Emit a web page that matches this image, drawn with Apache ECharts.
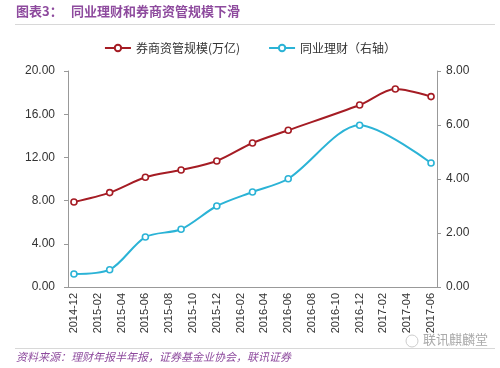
<!DOCTYPE html>
<html><head><meta charset="utf-8">
<script src="https://cdn.jsdelivr.net/npm/echarts@6/dist/echarts.min.js"></script>
<style>html,body{margin:0;padding:0;background:#fff}#c{width:500px;height:368px}</style>
</head><body><div id="c"></div>
<script>
// monthly categories 2014-12 .. 2017-06
const months = ['2014-12','2015-01','2015-02','2015-03','2015-04','2015-05','2015-06','2015-07','2015-08','2015-09','2015-10','2015-11','2015-12','2016-01','2016-02','2016-03','2016-04','2016-05','2016-06','2016-07','2016-08','2016-09','2016-10','2016-11','2016-12','2017-01','2017-02','2017-03','2017-04','2017-05','2017-06'];
const brokerDates = ['2014-12','2015-03','2015-06','2015-09','2015-12','2016-03','2016-06','2016-12','2017-03','2017-06'];
const brokerValues = [7.87, 8.74, 10.16, 10.84, 11.67, 13.33, 14.51, 16.85, 18.33, 17.63];
const interbankDates = ['2014-12','2015-03','2015-06','2015-09','2015-12','2016-03','2016-06','2016-12','2017-06'];
const interbankValues = [0.48, 0.64, 1.85, 2.14, 3.00, 3.52, 4.01, 5.99, 4.59];
const leftTicks = [0, 4, 8, 12, 16, 20];
const rightTicks = [0, 2, 4, 6, 8];

function toSeries(dates, vals){
  return months.map(m => { const i = dates.indexOf(m); return i >= 0 ? vals[i] : null; });
}
const chart = echarts.init(document.getElementById('c'), null, {renderer:'canvas'});
const purple = '#8E4B9E';
const font = '"Microsoft YaHei","Noto Sans CJK SC",sans-serif';
chart.setOption({
  animation:false,
  textStyle:{fontFamily:font},
  legend:{
    top:37, left:'center', itemGap:28, itemWidth:26, itemHeight:8,
    textStyle:{fontSize:12, color:'#333', fontFamily:font},
    data:['券商资管规模(万亿)','同业理财（右轴）']
  },
  grid:{left:68, right:63, top:71, bottom:81, containLabel:false},
  xAxis:{
    type:'category', data:months, boundaryGap:true,
    axisLine:{lineStyle:{color:'#999'}},
    axisTick:{interval:1, length:5, lineStyle:{color:'#999'}},
    axisLabel:{interval:1, rotate:90, fontSize:11, color:'#333', margin:6, fontFamily:'"Liberation Sans",Arial,sans-serif'}
  },
  yAxis:[
    {type:'value', min:leftTicks[0], max:leftTicks[leftTicks.length-1], interval:4,
     axisLine:{show:true, lineStyle:{color:'#999'}},
     axisTick:{show:true, length:4, lineStyle:{color:'#999'}},
     splitLine:{show:false},
     axisLabel:{formatter:v=>v.toFixed(2), fontSize:12, color:'#333', margin:13, fontFamily:'"Liberation Sans",Arial,sans-serif'}},
    {type:'value', min:rightTicks[0], max:rightTicks[rightTicks.length-1], interval:2,
     axisLine:{show:true, lineStyle:{color:'#999'}},
     axisTick:{show:true, length:4, lineStyle:{color:'#999'}},
     splitLine:{show:false},
     axisLabel:{formatter:v=>v.toFixed(2), fontSize:12, color:'#333', margin:9, fontFamily:'"Liberation Sans",Arial,sans-serif'}}
  ],
  series:[
    {name:'券商资管规模(万亿)', type:'line', yAxisIndex:0, data:toSeries(brokerDates, brokerValues),
     connectNulls:true, smooth:0.3, symbol:'circle', symbolSize:6,
     lineStyle:{color:'#A51C24', width:2},
     itemStyle:{color:'#fff', borderColor:'#A51C24', borderWidth:1.6}},
    {name:'同业理财（右轴）', type:'line', yAxisIndex:1, data:toSeries(interbankDates, interbankValues),
     connectNulls:true, smooth:0.3, symbol:'circle', symbolSize:6,
     lineStyle:{color:'#2BB3D6', width:2},
     itemStyle:{color:'#fff', borderColor:'#2BB3D6', borderWidth:1.6}}
  ],
  graphic:[
    {type:'text', left:16, top:5, style:{text:'图表3：', fill:purple, font:'bold 13px '+font}},
    {type:'text', left:71, top:5, style:{text:'同业理财和券商资管规模下滑', fill:purple, font:'bold 13px '+font}},
    {type:'rect', shape:{x:15, y:24, width:480, height:1}, style:{fill:'#d8d8d8'}},
    {type:'rect', shape:{x:15, y:348, width:480, height:1}, style:{fill:'#d8d8d8'}},
    {type:'text', left:16, top:351, style:{text:'资料来源：理财年报半年报，证券基金业协会，联讯证券', fill:purple, font:'italic 11px '+font}},
    {type:'rect', shape:{x:420, y:332, width:70, height:16}, style:{fill:'rgba(255,255,255,0.7)'}},
    {type:'circle', shape:{cx:412, cy:341, r:6}, style:{fill:'none', stroke:'#ccc', lineWidth:1}},
    {type:'text', left:423, top:333, style:{text:'联讯麒麟堂', fill:'#aaa', font:'13px '+font}}
  ]
});
</script></body></html>
